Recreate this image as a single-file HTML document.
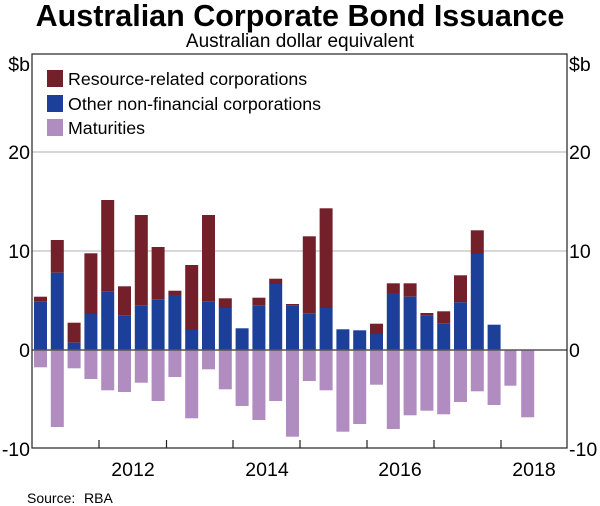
<!DOCTYPE html>
<html><head><meta charset="utf-8"><style>
body{margin:0;background:#fff;}
svg{display:block;font-family:"Liberation Sans",Arial,sans-serif;}
</style></head><body>
<svg width="600" height="506" viewBox="0 0 600 506">
<text x="300" y="26" font-size="30.5" font-weight="bold" text-anchor="middle">Australian Corporate Bond Issuance</text>
<text x="300" y="47" font-size="19" text-anchor="middle">Australian dollar equivalent</text>
<line x1="32" y1="152" x2="567" y2="152" stroke="#c0c0c0" stroke-width="1.3"/>
<line x1="32" y1="251" x2="567" y2="251" stroke="#c0c0c0" stroke-width="1.3"/>
<g fill="#74202a">
<rect x="34" y="296.7" width="13" height="5"/>
<rect x="50.8" y="240" width="13" height="32.7"/>
<rect x="67.6" y="322.7" width="13" height="20"/>
<rect x="84.4" y="253.3" width="13" height="60.7"/>
<rect x="101.2" y="200" width="13" height="91.7"/>
<rect x="118" y="286.3" width="13" height="29.4"/>
<rect x="134.8" y="215" width="13" height="90.3"/>
<rect x="151.6" y="247" width="13" height="52.3"/>
<rect x="168.4" y="290.7" width="13" height="4.3"/>
<rect x="185.2" y="265" width="13" height="65"/>
<rect x="202" y="215" width="13" height="86.3"/>
<rect x="218.8" y="298.3" width="13" height="9.7"/>
<rect x="252.4" y="297.7" width="13" height="7.6"/>
<rect x="269.2" y="278.7" width="13" height="5.3"/>
<rect x="286" y="304" width="13" height="1.7"/>
<rect x="302.8" y="236.3" width="13" height="77"/>
<rect x="319.6" y="208.3" width="13" height="99.7"/>
<rect x="370" y="323.7" width="13" height="10.3"/>
<rect x="386.8" y="283.3" width="13" height="9.7"/>
<rect x="403.6" y="283.3" width="13" height="13.4"/>
<rect x="420.4" y="313" width="13" height="2.7"/>
<rect x="437.2" y="311.3" width="13" height="12"/>
<rect x="454" y="275.3" width="13" height="27"/>
<rect x="470.8" y="230.3" width="13" height="23.7"/>
</g>
<g fill="#1c3f9a">
<rect x="34" y="301.7" width="13" height="48.3"/>
<rect x="50.8" y="272.7" width="13" height="77.3"/>
<rect x="67.6" y="342.7" width="13" height="7.3"/>
<rect x="84.4" y="314" width="13" height="36"/>
<rect x="101.2" y="291.7" width="13" height="58.3"/>
<rect x="118" y="315.7" width="13" height="34.3"/>
<rect x="134.8" y="305.3" width="13" height="44.7"/>
<rect x="151.6" y="299.3" width="13" height="50.7"/>
<rect x="168.4" y="295" width="13" height="55"/>
<rect x="185.2" y="330" width="13" height="20"/>
<rect x="202" y="301.3" width="13" height="48.7"/>
<rect x="218.8" y="308" width="13" height="42"/>
<rect x="235.6" y="328.3" width="13" height="21.7"/>
<rect x="252.4" y="305.3" width="13" height="44.7"/>
<rect x="269.2" y="284" width="13" height="66"/>
<rect x="286" y="305.7" width="13" height="44.3"/>
<rect x="302.8" y="313.3" width="13" height="36.7"/>
<rect x="319.6" y="308" width="13" height="42"/>
<rect x="336.4" y="329.3" width="13" height="20.7"/>
<rect x="353.2" y="330.3" width="13" height="19.7"/>
<rect x="370" y="334" width="13" height="16"/>
<rect x="386.8" y="293" width="13" height="57"/>
<rect x="403.6" y="296.7" width="13" height="53.3"/>
<rect x="420.4" y="315.7" width="13" height="34.3"/>
<rect x="437.2" y="323.3" width="13" height="26.7"/>
<rect x="454" y="302.3" width="13" height="47.7"/>
<rect x="470.8" y="254" width="13" height="96"/>
<rect x="487.6" y="324.7" width="13" height="25.3"/>
</g>
<g fill="#b08cc0">
<rect x="34" y="350" width="13" height="17.3"/>
<rect x="50.8" y="350" width="13" height="77"/>
<rect x="67.6" y="350" width="13" height="18.3"/>
<rect x="84.4" y="350" width="13" height="29"/>
<rect x="101.2" y="350" width="13" height="40.3"/>
<rect x="118" y="350" width="13" height="42"/>
<rect x="134.8" y="350" width="13" height="32.7"/>
<rect x="151.6" y="350" width="13" height="51"/>
<rect x="168.4" y="350" width="13" height="27"/>
<rect x="185.2" y="350" width="13" height="68.3"/>
<rect x="202" y="350" width="13" height="19.3"/>
<rect x="218.8" y="350" width="13" height="39.3"/>
<rect x="235.6" y="350" width="13" height="56"/>
<rect x="252.4" y="350" width="13" height="70"/>
<rect x="269.2" y="350" width="13" height="51"/>
<rect x="286" y="350" width="13" height="86.7"/>
<rect x="302.8" y="350" width="13" height="31"/>
<rect x="319.6" y="350" width="13" height="40.3"/>
<rect x="336.4" y="350" width="13" height="81.7"/>
<rect x="353.2" y="350" width="13" height="74"/>
<rect x="370" y="350" width="13" height="34.7"/>
<rect x="386.8" y="350" width="13" height="79"/>
<rect x="403.6" y="350" width="13" height="65.3"/>
<rect x="420.4" y="350" width="13" height="60.7"/>
<rect x="437.2" y="350" width="13" height="64.3"/>
<rect x="454" y="350" width="13" height="52"/>
<rect x="470.8" y="350" width="13" height="41.3"/>
<rect x="487.6" y="350" width="13" height="55"/>
<rect x="504.4" y="350" width="12" height="35.7"/>
<rect x="521.2" y="350" width="13" height="67.3"/>
</g>
<line x1="32" y1="350" x2="567" y2="350" stroke="#555" stroke-width="1.6"/>
<rect x="32" y="54" width="535" height="394" fill="none" stroke="#222" stroke-width="1.2"/>
<g stroke="#222" stroke-width="1.2">
<line x1="99" y1="440" x2="99" y2="448"/><line x1="166.5" y1="440" x2="166.5" y2="448"/>
<line x1="233" y1="440" x2="233" y2="448"/><line x1="300" y1="440" x2="300" y2="448"/>
<line x1="367" y1="440" x2="367" y2="448"/><line x1="434" y1="440" x2="434" y2="448"/>
<line x1="501" y1="440" x2="501" y2="448"/>
</g>
<g font-size="19.5">
<text x="30" y="71" text-anchor="end">$b</text>
<text x="30" y="159" text-anchor="end">20</text>
<text x="30" y="258" text-anchor="end">10</text>
<text x="30" y="357" text-anchor="end">0</text>
<text x="30" y="456" text-anchor="end">-10</text>
<text x="569" y="71">$b</text>
<text x="569" y="159">20</text>
<text x="569" y="258">10</text>
<text x="569" y="357">0</text>
<text x="569" y="456">-10</text>
<text x="133" y="476" text-anchor="middle">2012</text>
<text x="267" y="476" text-anchor="middle">2014</text>
<text x="400" y="476" text-anchor="middle">2016</text>
<text x="534" y="476" text-anchor="middle">2018</text>
</g>
<rect x="47" y="70" width="16" height="17" fill="#74202a"/>
<rect x="47" y="95" width="16" height="17" fill="#1c3f9a"/>
<rect x="47" y="119" width="16" height="17" fill="#b08cc0"/>
<g font-size="17.8">
<text x="68" y="85">Resource-related corporations</text>
<text x="68" y="110">Other non-financial corporations</text>
<text x="68" y="134">Maturities</text>
</g>
<text x="27" y="503" font-size="14">Source:</text>
<text x="84" y="503" font-size="14">RBA</text>
</svg>
</body></html>
